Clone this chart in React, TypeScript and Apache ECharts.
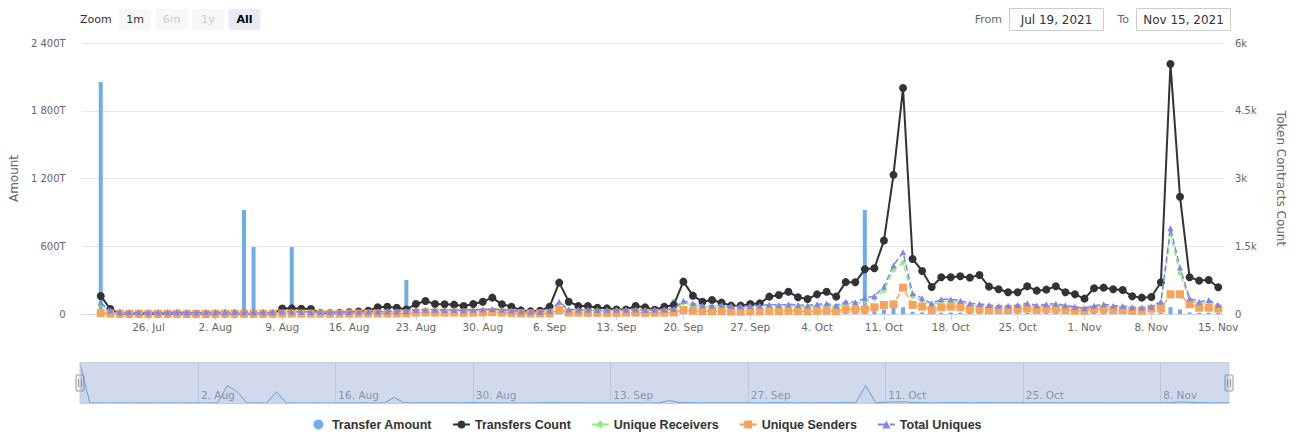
import React, { useEffect, useRef } from "react";
import * as echarts from "echarts";

// Day 0 = 19 Jul 2021. Data begins on day 2 (21 Jul 2021) and runs daily to 15 Nov 2021.
const START_YEAR = 2021;
const START_MONTH = 6; // July
const START_DAY = 19;
const FIRST_DATA_DAY = 2;
const MONTHS = ["Jan", "Feb", "Mar", "Apr", "May", "Jun", "Jul", "Aug", "Sep", "Oct", "Nov", "Dec"];

// Transfer Amount, in T (10^12)
const transferAmount = [
  // Jul 21-31
  2055, 8, 3, 2, 4, 2, 1, 3, 2, 5, 2,
  // Aug
  3, 4, 2, 6, 921, 593, 5, 3, 4, 593, 6, 3, 2, 4, 3, 2, 5, 4, 6, 3, 8, 301, 12, 9, 7, 10, 6, 8, 12, 15, 9,
  // Sep
  7, 5, 3, 4, 3, 6, 25, 10, 6, 5, 4, 3, 4, 3, 6, 5, 4, 8, 130, 30, 14, 10, 8, 6, 5, 7, 8, 10, 12, 11,
  // Oct
  14, 10, 9, 12, 15, 10, 18, 20, 921, 25, 40, 55, 60, 20, 15, 10, 12, 13, 12, 11, 14, 9, 8, 7, 8, 10, 8, 9, 10, 8, 7,
  // Nov 1-15
  6, 9, 10, 9, 8, 7, 6, 7, 12, 60, 40, 14, 11, 12, 10,
];

const transfersCount = [
  400, 110, 8, 7, 6, 6, 5, 7, 8, 7, 6,
  6, 7, 8, 9, 8, 8, 9, 10, 120, 125, 118, 110, 20, 18, 25, 40, 55, 70, 150, 160, 140, 100, 221, 288, 221, 214, 207, 177, 221, 273, 362,
  214, 162, 80, 60, 70, 162, 694, 273, 177, 177, 140, 125, 100, 100, 177, 147, 95, 162, 200, 716, 406, 273, 310, 251, 185, 185, 221, 236, 384, 420,
  494, 369, 332, 435, 494, 384, 705, 702, 990, 1012, 1626, 3081, 5002, 1219, 953, 599, 813, 813, 835, 805, 865, 606, 547, 480, 480, 613, 517, 539, 613, 480, 436,
  340, 569, 584, 547, 532, 392, 362, 377, 702, 5534, 2594, 813, 739, 754, 591,
];

const uniqueReceivers = [
  210, 60, 30, 28, 26, 25, 26, 28, 30, 27, 25,
  28, 30, 32, 34, 30, 28, 29, 31, 40, 42, 38, 36, 34, 32, 34, 36, 38, 40, 45, 48, 46, 50, 75, 80, 76, 72, 75, 70, 76, 84, 92,
  80, 66, 45, 40, 42, 58, 230, 84, 80, 76, 75, 72, 76, 80, 82, 75, 76, 84, 92, 250, 195, 160, 155, 170, 148, 142, 152, 156, 178, 170,
  182, 170, 160, 182, 195, 160, 232, 220, 295, 340, 520, 975, 1138, 390, 295, 200, 275, 275, 250, 200, 188, 170, 150, 157, 170, 200, 163, 182, 195, 163, 138,
  107, 157, 182, 157, 150, 126, 119, 138, 232, 1751, 901, 295, 232, 263, 170,
];

const uniqueSenders = [
  20, 10, 6, 6, 5, 5, 5, 6, 6, 5, 5,
  5, 6, 6, 7, 6, 5, 5, 6, 8, 9, 8, 7, 7, 6, 7, 8, 9, 9, 11, 12, 11, 13, 30, 35, 32, 30, 32, 28, 32, 36, 40,
  32, 25, 15, 12, 12, 18, 90, 30, 28, 26, 25, 24, 26, 28, 30, 26, 27, 30, 35, 88, 70, 60, 58, 62, 55, 52, 56, 58, 66, 62,
  68, 62, 58, 68, 72, 60, 103, 103, 103, 148, 200, 214, 584, 200, 163, 89, 148, 163, 148, 103, 103, 89, 89, 89, 103, 118, 89, 103, 103, 89, 74,
  74, 103, 103, 89, 89, 74, 74, 118, 118, 436, 436, 214, 140, 140, 118,
];

const totalUniques = [
  250, 75, 38, 36, 34, 33, 34, 36, 38, 35, 33,
  36, 38, 40, 42, 38, 36, 37, 40, 50, 52, 48, 46, 44, 42, 44, 46, 48, 50, 56, 60, 58, 62, 90, 95, 92, 88, 90, 85, 92, 100, 110,
  95, 80, 55, 50, 52, 70, 270, 100, 95, 92, 90, 88, 92, 95, 98, 90, 92, 100, 110, 295, 230, 190, 185, 200, 175, 170, 180, 185, 210, 200,
  215, 200, 190, 215, 230, 190, 273, 259, 347, 399, 606, 1079, 1367, 458, 347, 236, 325, 325, 296, 236, 222, 200, 177, 185, 200, 236, 192, 214, 229, 192, 163,
  126, 185, 214, 185, 177, 148, 140, 163, 273, 1899, 1027, 347, 273, 310, 200,
];

const leftTicks = [0, 600, 1200, 1800, 2400];
const rightTicks = [0, 1500, 3000, 4500, 6000];
const legendNames = ["Transfer Amount", "Transfers Count", "Unique Receivers", "Unique Senders", "Total Uniques"];
const rangeButtons = ["1m", "6m", "1y", "All"];
const fromText = "Jul 19, 2021";
const toText = "Nov 15, 2021";

const FONT = "DejaVu Sans, Verdana, sans-serif";
const FONT2 = "Liberation Sans, Arial, sans-serif";

function dayLabel(d: number): string {
  const dt = new Date(START_YEAR, START_MONTH, START_DAY + Math.round(d));
  return `${dt.getDate()}. ${MONTHS[dt.getMonth()]}`;
}

function toPairs(arr: number[]) {
  return arr.map((v, i) => [FIRST_DATA_DAY + i, v]);
}

function leftFmt(v: number): string {
  if (v === 0) return "0";
  if (v >= 1000) {
    const th = Math.floor(v / 1000);
    const rest = String(v % 1000).padStart(3, "0");
    return `${th} ${rest}T`;
  }
  return `${v}T`;
}

function rightFmt(v: number): string {
  if (v === 0) return "0";
  return `${v / 1000}k`;
}

export default function App() {
  const ref = useRef<HTMLDivElement>(null);

  useEffect(() => {
    if (!ref.current) return;
    const chart = echarts.init(ref.current, undefined, { renderer: "svg" });

    const lastDay = FIRST_DATA_DAY + transferAmount.length - 1;

    const btnGraphics: any[] = [];
    rangeButtons.forEach((b, i) => {
      const x = 119 + i * 36.5;
      const selected = b === "All";
      const disabled = b === "6m" || b === "1y";
      btnGraphics.push({
        type: "rect",
        shape: { x, y: 9, width: 32, height: 21, r: 2 },
        style: { fill: selected ? "#e6ebf5" : "#f7f7f7" },
      });
      btnGraphics.push({
        type: "text",
        x: x + 16,
        y: 19.5,
        style: {
          text: b,
          fill: disabled ? "#cccccc" : selected ? "#000000" : "#333333",
          font: `${selected ? "bold " : ""}11px ${FONT}`,
          align: "center",
          verticalAlign: "middle",
        },
      });
    });

    const handle = (cx: number) => ({
      type: "group",
      z: 20,
      children: [
        {
          type: "rect",
          shape: { x: cx - 4, y: 375, width: 8, height: 16, r: 1 },
          style: { fill: "#f2f2f2", stroke: "#999999", lineWidth: 1 },
        },
        { type: "line", shape: { x1: cx - 1.5, y1: 379, x2: cx - 1.5, y2: 387 }, style: { stroke: "#999999", lineWidth: 1 } },
        { type: "line", shape: { x1: cx + 1.5, y1: 379, x2: cx + 1.5, y2: 387 }, style: { stroke: "#999999", lineWidth: 1 } },
      ],
    });

    const option: any = {
      animation: false,
      backgroundColor: "#ffffff",
      textStyle: { fontFamily: FONT },
      grid: [
        { left: 80, right: 64, top: 43, height: 271 },
        { left: 60.4, right: 66, top: 363, height: 40 },
      ],
      legend: {
        bottom: -2,
        left: "center",
        itemGap: 20,
        itemWidth: 17,
        itemHeight: 10,
        textStyle: { fontFamily: FONT2, fontSize: 12.5, fontWeight: "bold", color: "#333333" },
        data: legendNames.map((n) => (n === "Transfer Amount" ? { name: n, icon: "circle" } : { name: n })),
      },
      xAxis: [
        {
          type: "value",
          gridIndex: 0,
          min: 0,
          max: 119.5,
          interval: 7,
          axisLine: { show: true, lineStyle: { color: "#ccd6eb" } },
          axisTick: { show: true, length: 6, lineStyle: { color: "#ccd6eb" } },
          splitLine: { show: false },
          axisLabel: {
            color: "#666666",
            fontFamily: FONT,
            fontSize: 10.5,
            margin: 7,
            showMinLabel: false,
            showMaxLabel: false,
            formatter: (v: number) => (v > 0 && v % 7 === 0 && v <= lastDay ? dayLabel(v) : ""),
          },
        },
        {
          type: "value",
          gridIndex: 1,
          min: 0,
          max: lastDay,
          interval: 14,
          axisLine: { show: false },
          axisTick: { show: false },
          splitLine: { show: true, showMinLine: false, showMaxLine: false, lineStyle: { color: "#e6e6e6", width: 1 } },
          axisLabel: {
            inside: true,
            color: "#999999",
            fontFamily: FONT,
            fontSize: 10.5,
            align: "left",
            verticalAlign: "bottom",
            padding: [0, 0, 0, 3],
            margin: 3,
            showMinLabel: false,
            showMaxLabel: false,
            formatter: (v: number) => (v > 0 && v % 14 === 0 ? dayLabel(v) : ""),
          },
        },
      ],
      yAxis: [
        {
          type: "value",
          gridIndex: 0,
          min: 0,
          max: 2400,
          interval: 600,
          position: "left",
          name: "Amount",
          nameLocation: "middle",
          nameRotate: 90,
          nameGap: 59,
          nameTextStyle: { color: "#666666", fontFamily: FONT, fontSize: 12 },
          axisLine: { show: false },
          axisTick: { show: false },
          splitLine: { show: true, lineStyle: { color: "#e6e6e6" } },
          axisLabel: {
            color: "#666666",
            fontFamily: FONT,
            fontSize: 10,
            margin: 16,
            customValues: leftTicks,
            formatter: leftFmt,
          },
        },
        {
          type: "value",
          gridIndex: 0,
          min: 0,
          max: 6000,
          interval: 1500,
          position: "right",
          name: "Token Contracts Count",
          nameLocation: "middle",
          nameRotate: -90,
          nameGap: 52,
          nameTextStyle: { color: "#666666", fontFamily: FONT, fontSize: 12 },
          axisLine: { show: false },
          axisTick: { show: false },
          splitLine: { show: false },
          axisLabel: {
            color: "#666666",
            fontFamily: FONT,
            fontSize: 10,
            margin: 12,
            customValues: rightTicks,
            formatter: rightFmt,
          },
        },
        {
          type: "value",
          gridIndex: 1,
          min: 0,
          max: 2100,
          show: false,
        },
      ],
      series: [
        {
          name: "Transfer Amount",
          type: "bar",
          xAxisIndex: 0,
          yAxisIndex: 0,
          barWidth: 4,
          itemStyle: { color: "#70abea" },
          data: toPairs(transferAmount),
          z: 1,
        },
        {
          name: "Transfers Count",
          type: "line",
          xAxisIndex: 0,
          yAxisIndex: 1,
          symbol: "circle",
          symbolSize: 8,
          showAllSymbol: true,
          itemStyle: { color: "#333336" },
          lineStyle: { color: "#333336", width: 2 },
          data: toPairs(transfersCount),
          z: 2,
        },
        {
          name: "Unique Receivers",
          type: "line",
          xAxisIndex: 0,
          yAxisIndex: 1,
          symbol: "diamond",
          symbolSize: 6,
          showAllSymbol: true,
          itemStyle: { color: "#90ed7d" },
          lineStyle: { color: "#90ed7d", width: 1.5, type: "dashed" },
          data: toPairs(uniqueReceivers),
          z: 3,
        },
        {
          name: "Unique Senders",
          type: "line",
          xAxisIndex: 0,
          yAxisIndex: 1,
          symbol: "rect",
          symbolSize: 8,
          showAllSymbol: true,
          itemStyle: { color: "#f7a35c" },
          lineStyle: { color: "#f7a35c", width: 1.5, type: "dashed" },
          data: toPairs(uniqueSenders),
          z: 4,
        },
        {
          name: "Total Uniques",
          type: "line",
          xAxisIndex: 0,
          yAxisIndex: 1,
          symbol: "triangle",
          symbolSize: 6,
          showAllSymbol: true,
          itemStyle: { color: "#8085e9" },
          lineStyle: { color: "#8085e9", width: 1.5, type: "dashed" },
          data: toPairs(totalUniques),
          z: 5,
        },
        {
          name: "navigator",
          type: "line",
          xAxisIndex: 1,
          yAxisIndex: 2,
          symbol: "none",
          silent: true,
          lineStyle: { color: "#6ea8e6", width: 1 },
          areaStyle: { color: "rgba(124,181,236,0.12)" },
          data: toPairs(transferAmount),
          z: 1,
        },
      ],
      graphic: [
        {
          type: "text",
          x: 80,
          y: 19.5,
          style: { text: "Zoom", fill: "#333333", font: `11px ${FONT}`, verticalAlign: "middle" },
        },
        ...btnGraphics,
        {
          type: "text",
          x: 1002,
          y: 19.5,
          style: { text: "From", fill: "#666666", font: `11px ${FONT}`, align: "right", verticalAlign: "middle" },
        },
        {
          type: "rect",
          shape: { x: 1009.5, y: 8.5, width: 94, height: 22 },
          style: { fill: "#ffffff", stroke: "#cccccc", lineWidth: 1 },
        },
        {
          type: "text",
          x: 1056.5,
          y: 19.5,
          style: { text: fromText, fill: "#333333", font: `12px ${FONT}`, align: "center", verticalAlign: "middle" },
        },
        {
          type: "text",
          x: 1129,
          y: 19.5,
          style: { text: "To", fill: "#666666", font: `11px ${FONT}`, align: "right", verticalAlign: "middle" },
        },
        {
          type: "rect",
          shape: { x: 1136.5, y: 8.5, width: 94, height: 22 },
          style: { fill: "#ffffff", stroke: "#cccccc", lineWidth: 1 },
        },
        {
          type: "text",
          x: 1183.5,
          y: 19.5,
          style: { text: toText, fill: "#333333", font: `12px ${FONT}`, align: "center", verticalAlign: "middle" },
        },
        {
          type: "rect",
          z: 10,
          silent: true,
          shape: { x: 80, y: 362.5, width: 1149, height: 41 },
          style: { fill: "rgba(102,133,194,0.3)", stroke: "#cccccc", lineWidth: 1 },
        },
        handle(80),
        handle(1229),
      ],
    };

    chart.setOption(option);
    return () => chart.dispose();
  }, []);

  return (
    <div
      ref={ref}
      style={{ position: "fixed", left: 0, top: 0, width: 1295, height: 434, background: "#ffffff" }}
    />
  );
}
